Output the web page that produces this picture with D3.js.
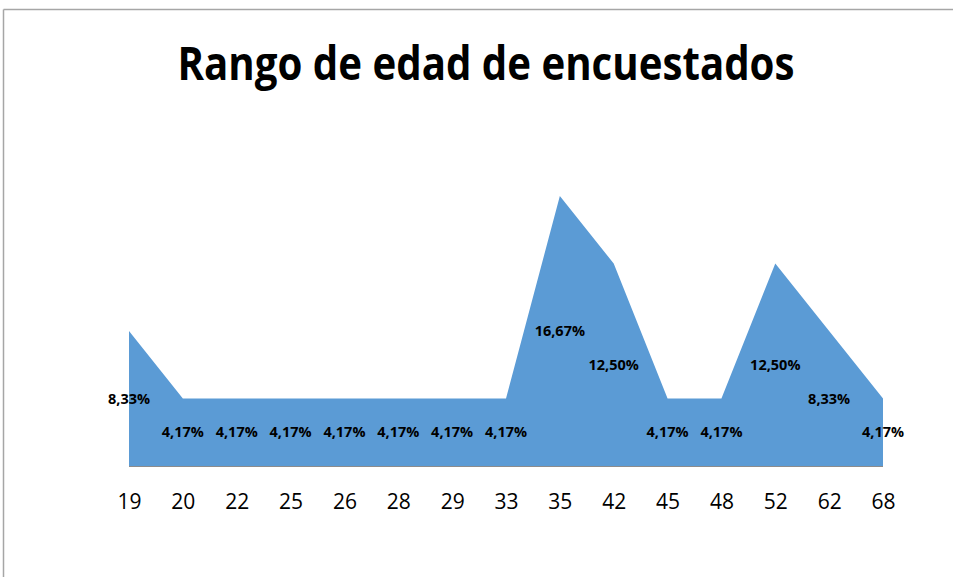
<!DOCTYPE html>
<html>
<head>
<meta charset="utf-8">
<script src="https://cdn.jsdelivr.net/npm/d3@7"></script>
<style>
  body { margin: 0; background: #fff; }
  svg { display: block; }
</style>
</head>
<body>
<div id="chart"></div>
<script>
// Data
var ages = ["19", "20", "22", "25", "26", "28", "29", "33", "35", "42", "45", "48", "52", "62", "68"];
var values = [8.33, 4.17, 4.17, 4.17, 4.17, 4.17, 4.17, 4.17, 16.67, 12.50, 4.17, 4.17, 12.50, 8.33, 4.17];
var title = "Rango de edad de encuestados";

var W = 953, H = 577;

var svg = d3.select("#chart").append("svg")
  .attr("width", W)
  .attr("height", H);

// chart frame (top and left edges visible)
svg.append("line")
  .attr("x1", 3.5).attr("y1", 9.5).attr("x2", W).attr("y2", 9.5)
  .attr("stroke", "#a6a6a6").attr("stroke-width", 1.5);
svg.append("line")
  .attr("x1", 3.5).attr("y1", 9.5).attr("x2", 3.5).attr("y2", H)
  .attr("stroke", "#a6a6a6").attr("stroke-width", 1.5);

// Title
svg.append("text")
  .attr("x", 486)
  .attr("y", 80)
  .attr("text-anchor", "middle")
  .attr("textLength", 617)
  .attr("lengthAdjust", "spacingAndGlyphs")
  .style("font-family", "'Open Sans', sans-serif")
  .style("font-weight", "bold")
  .style("font-size", "47px")
  .text(title);

// Scales
var x = d3.scalePoint()
  .domain(ages)
  .range([129, 883]);

var y = d3.scaleLinear()
  .domain([0, 16.67])
  .range([466, 196]);

// Area
var area = d3.area()
  .x(function(d, i) { return x(ages[i]); })
  .y0(y(0))
  .y1(function(d) { return y(d); });

svg.append("path")
  .datum(values)
  .attr("d", area)
  .attr("fill", "#5b9bd5");

// Baseline
svg.append("line")
  .attr("x1", x(ages[0])).attr("x2", x(ages[ages.length - 1]))
  .attr("y1", y(0) + 0.5).attr("y2", y(0) + 0.5)
  .attr("stroke", "#8c8c8c").attr("stroke-width", 1);

// Axis
var xAxis = d3.axisBottom(x).tickSize(0).tickPadding(0);
var gx = svg.append("g")
  .attr("transform", "translate(0," + 494 + ")")
  .call(xAxis);
gx.select(".domain").remove();
gx.selectAll("text")
  .attr("dy", "0.71em")
  .style("font-family", "'Open Sans', sans-serif")
  .style("font-size", "21px")
  .attr("fill", "#000");

// Data labels, placed halfway up each value
svg.selectAll(".label")
  .data(values)
  .enter().append("text")
  .attr("class", "label")
  .attr("x", function(d, i) { return x(ages[i]); })
  .attr("y", function(d) { return y(d / 2); })
  .attr("dy", "0.36em")
  .attr("text-anchor", "middle")
  .style("font-family", "'Open Sans', sans-serif")
  .style("font-weight", "bold")
  .style("font-size", "14.5px")
  .text(function(d) { return d.toFixed(2).replace(".", ",") + "%"; });
</script>
</body>
</html>
